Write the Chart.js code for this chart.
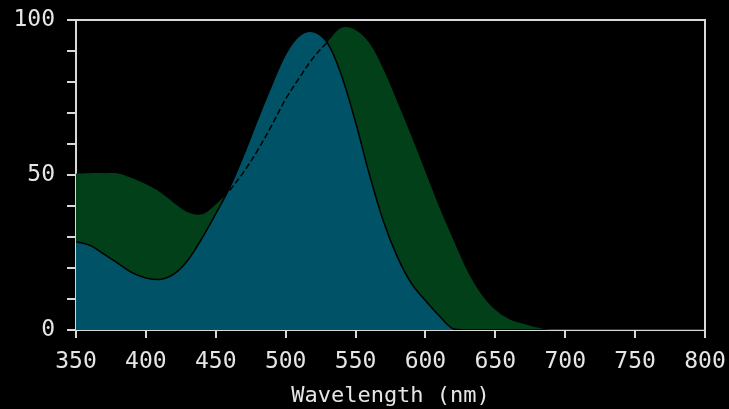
<!DOCTYPE html>
<html>
<head>
<meta charset="utf-8">
<script src="https://cdn.jsdelivr.net/npm/chart.js@4/dist/chart.umd.min.js"></script>
<style>
html,body{margin:0;padding:0;background:#000;}
canvas{display:block;}
</style>
</head>
<body>
<canvas id="c" width="729" height="409"></canvas>
<script>
// Wavelengths (nm)
const wavelengths = [350,360,370,380,390,400,410,420,430,440,450,460,470,480,490,500,510,520,530,540,550,560,570,580,590,600,610,620,630,640,650,660,670,680,690,700,750,800];
// Outer (green) curve
const greenValues = [50.5,50.6,50.6,50.5,49,47,44.5,41,38,37.3,40.5,45,51,58,66,74.5,81.5,88,93,97.5,96.8,92.5,84,73.5,62.5,51,39.5,29,19,11.5,6.5,3.5,2,0.8,0,0,0,0];
// Inner (teal) curve
const tealValues = [28.5,27.3,24.5,21.5,18.5,16.8,16.3,18,22.5,29.5,37.5,46,56.5,68,79,89,95,96.2,92.5,82,67,50,35,23.5,15,9.5,4.5,0.3,0,0,0,0,0,0,0,0,0,0];
// Hidden part of green curve drawn dashed
const dashedRange = [460, 530];
const yTicks = [0,10,20,30,40,50,60,70,80,90,100];
const yLabels = [0, 50, 100];
const xTicks = [350,400,450,500,550,600,650,700,750,800];

const toPts = (vals) => wavelengths.map((w,i)=>({x:w,y:vals[i]}));
const dashedPts = wavelengths.map((w,i)=>({x:w,y:greenValues[i]})).filter(p=>p.x>=dashedRange[0]&&p.x<=dashedRange[1]);

const frame = {
  id:'frame',
  afterDatasetsDraw(chart){
    const {ctx, chartArea:a} = chart;
    ctx.save();
    ctx.strokeStyle='#d9d9d9';
    ctx.lineWidth=2;
    ctx.beginPath();
    ctx.moveTo(a.left, a.top);
    ctx.lineTo(a.right, a.top);
    ctx.lineTo(a.right, a.bottom);
    ctx.stroke();
    ctx.restore();
  }
};

const fontTick = {family:'DejaVu Sans Mono', size:23};
new Chart(document.getElementById('c'), {
  type:'line',
  data:{
    datasets:[
      {data:dashedPts, borderColor:'#000', borderWidth:1.5, borderDash:[6,3], fill:false, pointRadius:0, tension:0.35},
      {data:toPts(tealValues), borderColor:'#000', borderWidth:1.5, backgroundColor:'#005266', fill:'origin', pointRadius:0, tension:0.35},
      {data:toPts(greenValues), borderColor:'rgba(0,0,0,0)', borderWidth:0, backgroundColor:'#02401a', fill:'origin', pointRadius:0, tension:0.35}
    ]
  },
  options:{
    responsive:false,
    animation:false,
    events:[],
    layout:{padding:{top:20,right:24,left:0,bottom:0}},
    plugins:{legend:{display:false},tooltip:{enabled:false}},
    scales:{
      x:{
        type:'linear', min:350, max:800, z:1,
        afterFit(s){ s.height = 79; s.paddingLeft = 0; s.paddingRight = 0; },
        afterBuildTicks(s){ s.ticks = xTicks.map(v=>({value:v})); },
        grid:{drawOnChartArea:false, color:'#d9d9d9', tickLength:8, lineWidth:2},
        border:{color:'#d9d9d9', width:2},
        ticks:{color:'#e6e6e6', font:fontTick, padding:10, maxRotation:0, autoSkip:false},
        title:{display:true, text:'Wavelength (nm)', color:'#e6e6e6', font:{family:'DejaVu Sans Mono', size:22}, padding:{top:0,bottom:0}}
      },
      y:{
        type:'linear', min:0, max:100, z:1,
        afterFit(s){ s.width = 76; s.paddingTop = 0; s.paddingBottom = 0; },
        afterBuildTicks(s){ s.ticks = yTicks.map(v=>({value:v})); },
        grid:{drawOnChartArea:false, color:'#d9d9d9', tickLength:9, lineWidth:2},
        border:{color:'#d9d9d9', width:2},
        ticks:{color:'#e6e6e6', font:fontTick, padding:12, autoSkip:false,
          callback:(v)=> yLabels.includes(v) ? String(v) : ''}
      }
    }
  },
  plugins:[frame]
});
</script>
</body>
</html>
